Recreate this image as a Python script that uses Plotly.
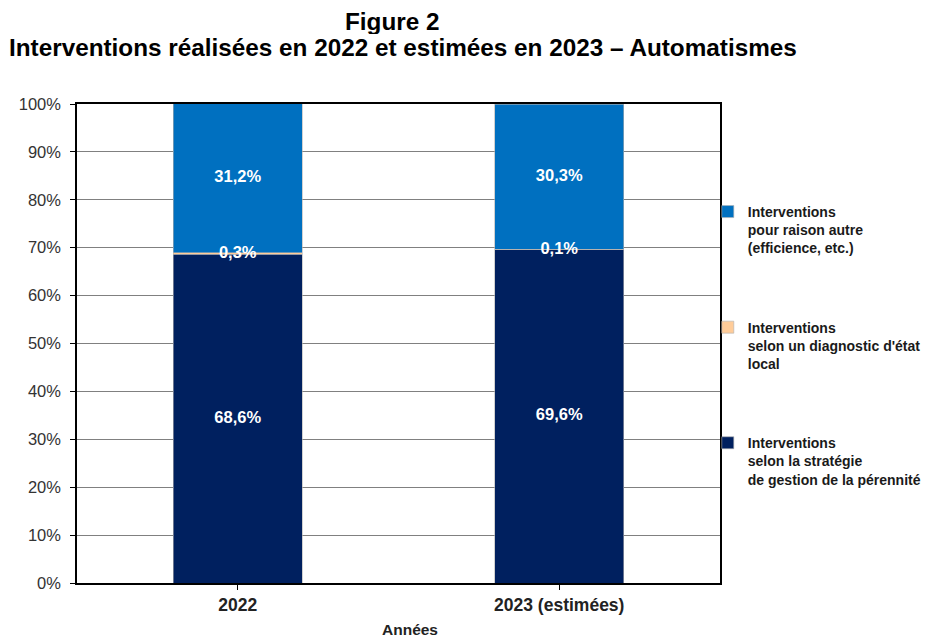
import plotly.graph_objects as go

categories = ["2022", "2023 (estimées)"]
strategie = [68.6, 69.6]
diagnostic = [0.3, 0.1]
autre = [31.2, 30.3]

names = [
    "Interventions<br>selon la stratégie<br>de gestion de la pérennité",
    "Interventions<br>selon un diagnostic d'état<br>local",
    "Interventions<br>pour raison autre<br>(efficience, etc.)",
]
colors = ["#00205F", "#FFCC99", "#0070C0"]
ranks = [3, 2, 1]
series = [strategie, diagnostic, autre]

fig = go.Figure()
for i, (vals, name, col) in enumerate(zip(series, names, colors)):
    fig.add_trace(go.Bar(
        x=categories, y=vals, name=name, legendgroup=str(i), legendrank=ranks[i],
        marker=dict(color=col, line=dict(color="#b0b0b0", width=0.6)),
        width=0.4,
    ))

# data labels at segment centres (text trace on the same category axis)
lab_x, lab_y, lab_t = [], [], []
for ci, cat in enumerate(categories):
    base = 0
    for vals in series:
        v = vals[ci]
        lab_x.append(cat)
        lab_y.append(min(base + v / 2, 100))
        lab_t.append(f"{v:.1f}%".replace(".", ","))
        base += v
fig.add_trace(go.Scatter(
    x=lab_x, y=lab_y, text=lab_t, mode="text", showlegend=False, hoverinfo="skip",
    textfont=dict(family="Liberation Sans, Arial", size=16.5, color="white", weight="bold"),
))

# title lines
fig.add_annotation(text="<b>Figure 2</b>", xref="paper", yref="paper",
                   x=0.4914, y=1.1733, yanchor="middle", showarrow=False, height=26,
                   font=dict(size=24.3, color="black"))
fig.add_annotation(text="<b>Interventions réalisées en 2022 et estimées en 2023 – Automatismes</b>",
                   xref="paper", yref="paper", x=0.507, y=1.117, yanchor="middle",
                   showarrow=False, font=dict(size=24.3, color="black"))
# x-axis title
fig.add_annotation(text="<b>Années</b>", xref="paper", yref="paper",
                   x=0.518, y=-0.098, yanchor="middle", showarrow=False,
                   font=dict(size=15.5, color="#222"))

fig.update_layout(
    barmode="stack",
    width=940, height=629,
    margin=dict(l=69, r=228, t=96, b=54, autoexpand=False),
    paper_bgcolor="white", plot_bgcolor="white",
    font=dict(family="Liberation Sans, Arial", color="#222"),
    legend=dict(
        x=0.981, xanchor="left", y=0.808, yanchor="top", valign="top",
        traceorder="grouped", tracegroupgap=58,
        font=dict(size=14, color="#1a1a1a", weight="bold"),
        itemwidth=30, bgcolor="rgba(0,0,0,0)",
    ),
    xaxis=dict(
        type="category", categoryorder="array", categoryarray=categories,
        range=[-0.5, 1.5],
        showline=True, linecolor="black", linewidth=1.5, mirror=True,
        ticks="outside", ticklen=5, tickcolor="black",
        tickfont=dict(size=17.5, color="#222", weight="bold"),
    ),
    yaxis=dict(
        range=[0, 100], dtick=10, ticksuffix="%",
        showline=True, linecolor="black", linewidth=1.5, mirror=True,
        ticks="outside", ticklen=5, tickcolor="black", ticklabelstandoff=6,
        gridcolor="#808080", gridwidth=1,
        tickfont=dict(size=16.5, color="#333"),
    ),
)

fig.write_html("out.html")
